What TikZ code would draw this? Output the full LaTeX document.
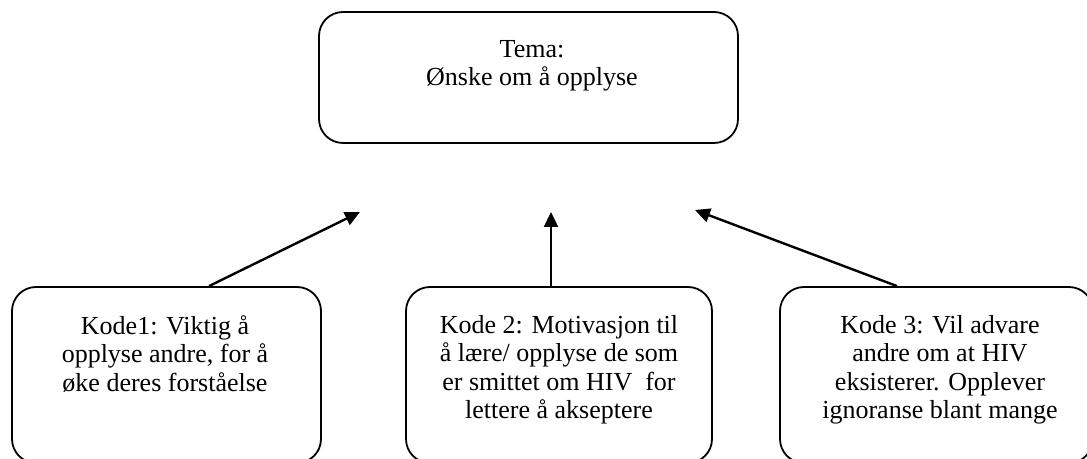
\documentclass[tikz,border=0pt]{standalone}
\usepackage{fontspec}
\setmainfont{Liberation Serif}
\usetikzlibrary{arrows.meta,calc}
\begin{document}
\begin{tikzpicture}[x=0.5pt,y=-0.5pt,
  box/.style={draw, line width=0.9pt, rounded corners=12pt, inner sep=0pt},
  txt/.style={anchor=north, align=center, inner sep=0pt, font=\fontsize{13}{14.2}\selectfont},
  arr/.style={line width=1.2pt, -{Triangle[length=7.5pt,width=7pt]}}]
\clip (0,0) rectangle (1087,459);
\node[box, minimum width=209.5pt, minimum height=65.5pt] (top) at (528.5,77.5) {};
\node[txt] (ttop) at (532,40) {Tema:\\Ønske om å opplyse};
\node[box, minimum width=154.5pt, minimum height=88pt] (b1) at (166.5,375) {};
\node[txt] (t1) at (165,315) {Kode1: Viktig å\\opplyse andre, for å\\øke deres forståelse};
\node[box, minimum width=153pt, minimum height=88pt] (b2) at (559,375) {};
\node[txt] (t2) at (559,315) {Kode 2: Motivasjon til\\å lære/ opplyse de som\\er smittet om HIV\ \ for\\lettere å akseptere};
\node[box, minimum width=156.5pt, minimum height=88pt] (b3) at (936.5,375) {};
\node[txt] (t3) at (940,315) {Kode 3: Vil advare\\andre om at HIV\\eksisterer. Opplever\\ignoranse blant mange};
\coordinate (e1) at (360,212);
\coordinate (e2) at (551,212);
\coordinate (e3) at (695,210);
\draw[arr] ([xshift=21.25pt]b1.north) -- (e1);
\draw[arr] ([xshift=-4pt]b2.north) -- (e2);
\draw[arr] ([xshift=-19.75pt]b3.north) -- (e3);
\end{tikzpicture}
\end{document}
